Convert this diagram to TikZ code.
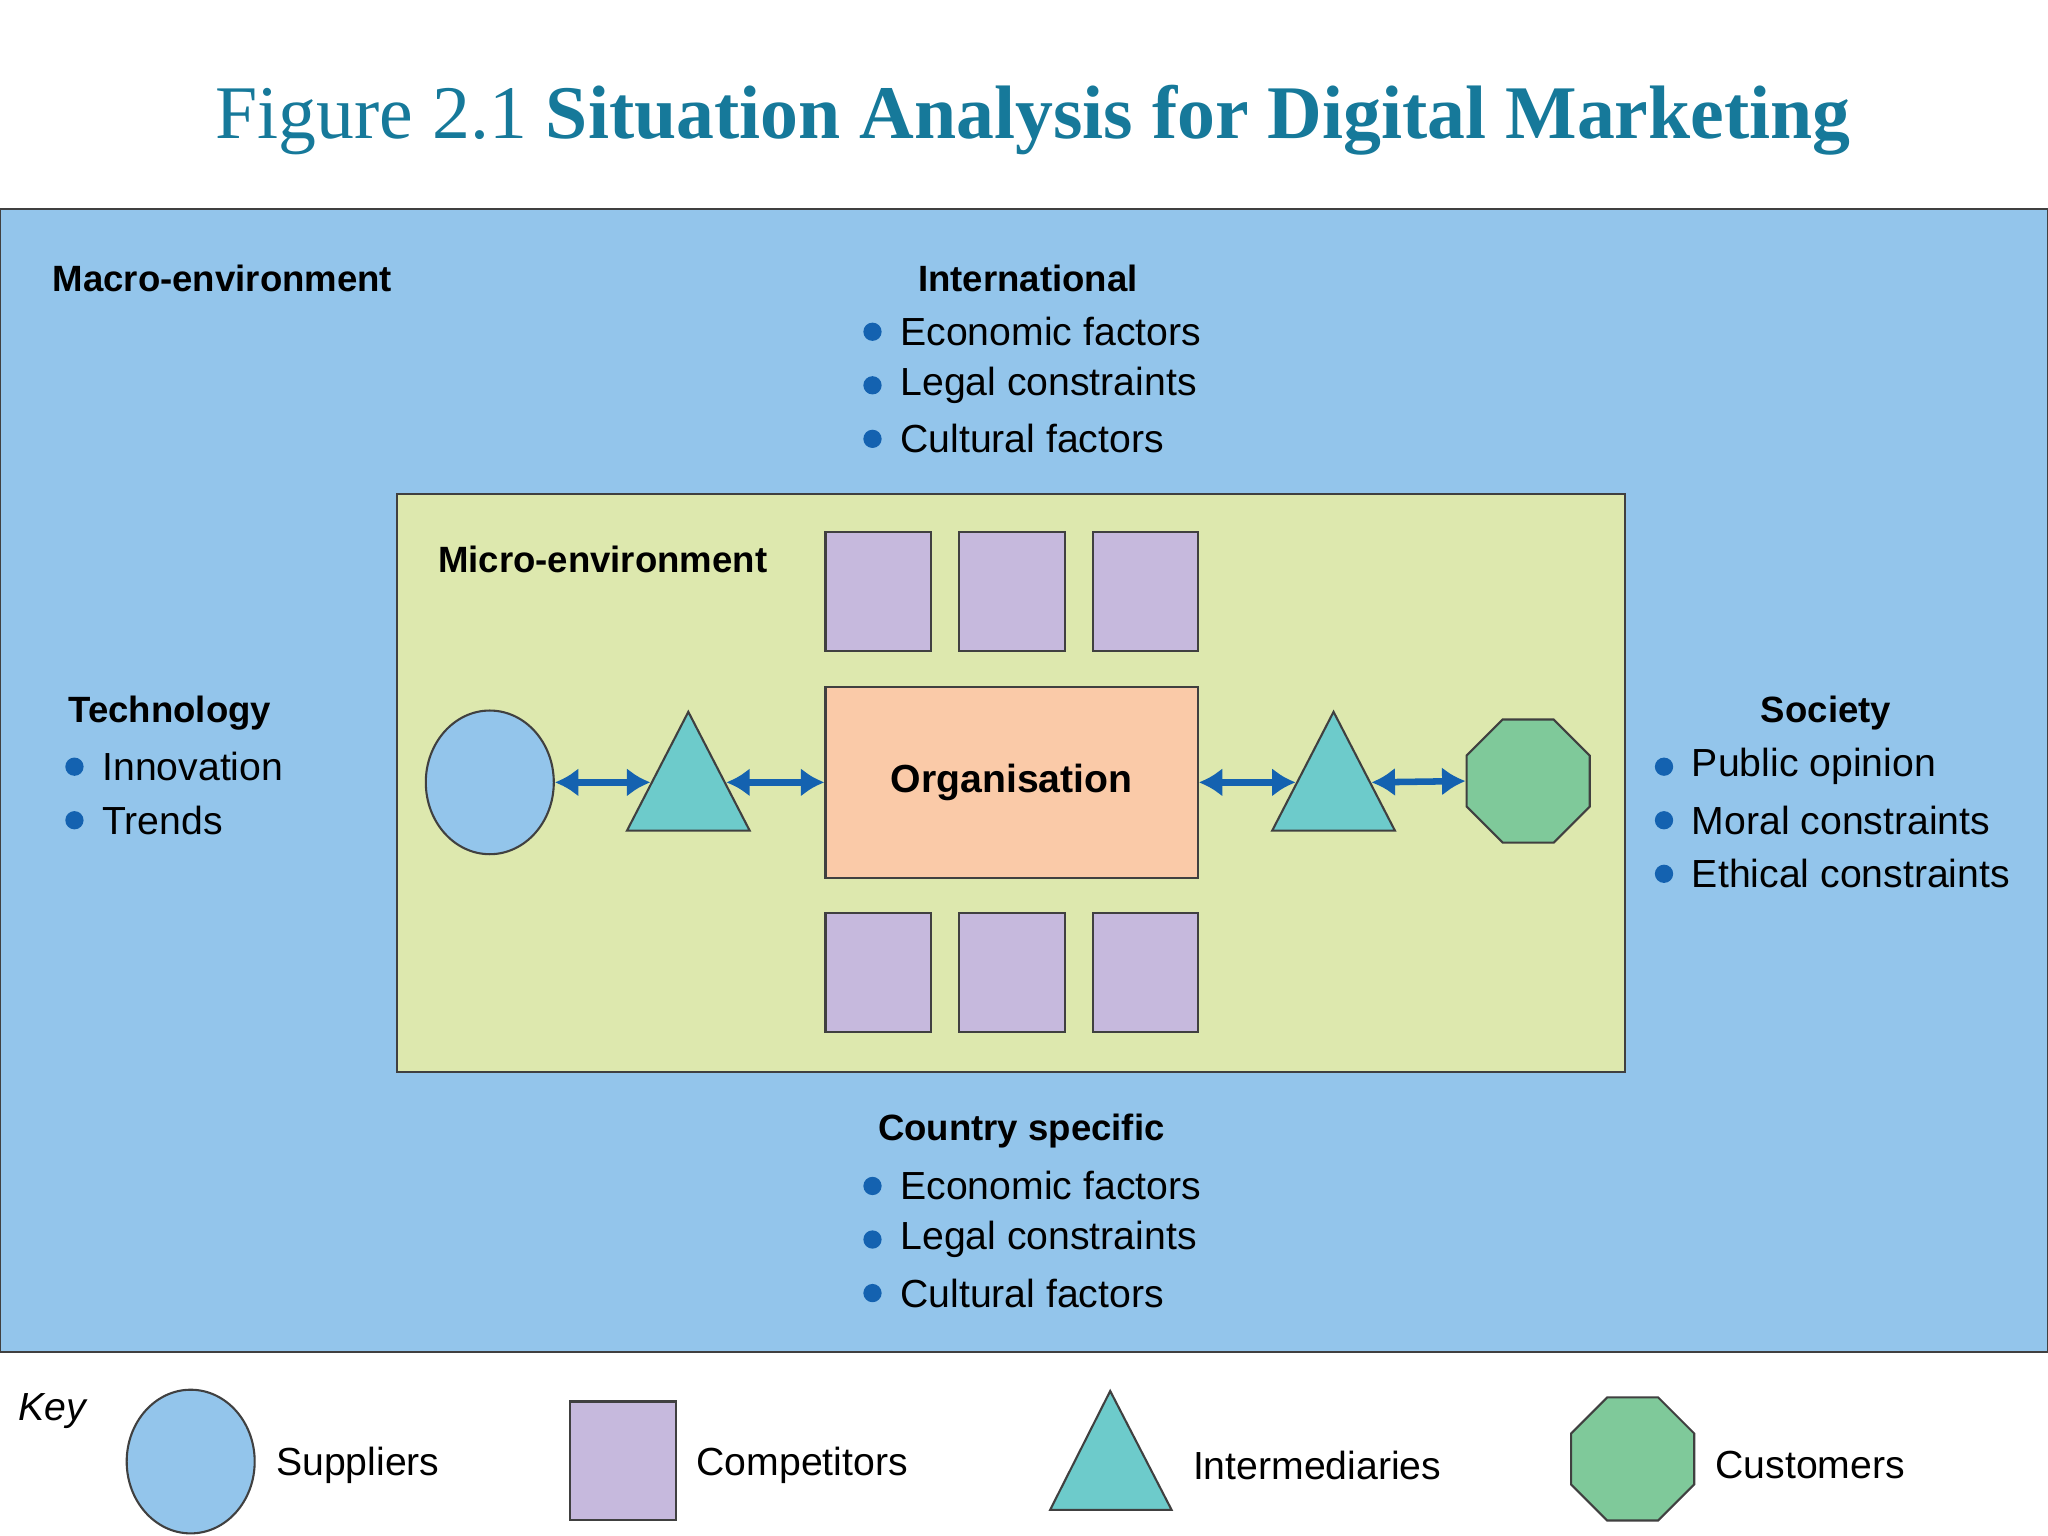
\documentclass[tikz,border=0pt]{standalone}
\usepackage{fontspec}
\setmainfont{Liberation Sans}
\newfontfamily\ttlfont{Liberation Serif}
\usetikzlibrary{shapes.geometric,arrows.meta}
\definecolor{ttl}{HTML}{16799A}
\definecolor{macro}{HTML}{93C5EB}
\definecolor{micro}{HTML}{DDE8AE}
\definecolor{comp}{HTML}{C6B9DD}
\definecolor{org}{HTML}{FACAA8}
\definecolor{inter}{HTML}{6DCBCB}
\definecolor{cust}{HTML}{7FC99A}
\definecolor{bul}{HTML}{1462B0}
\tikzset{
  every node/.style={inner sep=0pt},
  box/.style={draw=black!75,line width=0.8pt},
  compsq/.style={box,fill=comp,rectangle,minimum width=40.5pt,minimum height=45.5pt},
  supp/.style={box,fill=macro,ellipse,minimum width=49pt,minimum height=55pt},
  custo/.style={box,fill=cust,regular polygon,regular polygon sides=8,minimum size=51pt},
  tri/.style={box,fill=inter},
  lbl/.style={font=\fontsize{14}{16}\selectfont\bfseries},
  itm/.style={anchor=west,font=\fontsize{15}{17}\selectfont},
  dot/.style={circle,fill=bul,minimum size=7pt},
  arr/.style={draw=bul,line width=2.5pt,{Latex[length=9pt,width=11pt]}-{Latex[length=9pt,width=11pt]}},
}
\begin{document}
\begin{tikzpicture}[x=0.5pt,y=-0.5pt]
\useasboundingbox (0,0) rectangle (1568,1176);
\fill[white] (0,0) rectangle (1568,1176);
\node[font=\ttlfont\fontsize{29}{32}\selectfont,text=ttl] (title) at (791,92) {Figure 2.1 \textbf{Situation Analysis for Digital Marketing}};
\draw[box,fill=macro] (0,160) rectangle (1568,1035);
\draw[box,fill=micro] (304,378) rectangle (1244,821);
\node[lbl,anchor=west] (macrol) at (40,213) {Macro-environment};
\node[lbl,anchor=west] (microl) at (335,428) {Micro-environment};
\node[lbl] (intl) at (787,213) {International};
\node[lbl] (techl) at (130,546) {Technology};
\node[lbl] (socl) at (1398,546) {Society};
\node[lbl] (cntl) at (782,866) {Country specific};
\foreach \n/\x/\y/\t in {i1/668/254/Economic factors, i2/668/295/Legal constraints, i3/668/336/Cultural factors,
  t1/57/587/Innovation, t2/57/628/Trends,
  s1/1274/587/Public opinion, s2/1274/628/Moral constraints, s3/1274/669/Ethical constraints,
  c1/668/908/Economic factors, c2/668/949/Legal constraints, c3/668/990/Cultural factors}{
  \node[dot] (\n d) at (\x,\y) {};
  \node[itm] (\n) at (\x+21,\y) {\t};
}
\foreach \n/\x in {1/672.5,2/775,3/877}{
  \node[compsq] (ct\n) at (\x,453) {};
  \node[compsq] (cb\n) at (\x,744.5) {};
}
\node[box,fill=org,minimum width=142.5pt,minimum height=73pt,font=\fontsize{15}{17}\selectfont\bfseries] (org) at (774.5,599) {Organisation};
\node[supp] (sup) at (375,599) {};
\node[custo] (cus) at (1170,598) {};
\draw[tri] (527,545) -- (574,636) -- (480,636) -- cycle;
\draw[tri] (1021,545) -- (1068,636) -- (974,636) -- cycle;
\coordinate (tlL) at (498,599); \coordinate (tlR) at (556,599);
\coordinate (trL) at (992,599); \coordinate (trR) at (1050,599);
\draw[arr] (sup.east) -- (tlL);
\draw[arr] (tlR) -- (org.west);
\draw[arr] (org.east) -- (trL);
\draw[arr] (trR) -- (cus.west);
% key
\node[anchor=west,font=\fontsize{15}{17}\selectfont\itshape] (key) at (14,1080) {Key};
\node[supp] (ksup) at (146,1119) {};
\node[itm] (ksupl) at (211,1122) {Suppliers};
\node[compsq] (kcomp) at (477,1118.5) {};
\node[itm] (kcompl) at (533,1122) {Competitors};
\draw[tri] (850,1065) -- (897,1156) -- (804,1156) -- cycle;
\node[itm] (kintl) at (913,1122) {Intermediaries};
\node[custo] (kcus) at (1250,1117) {};
\node[itm] (kcusl) at (1313,1122) {Customers};
\end{tikzpicture}
\end{document}
